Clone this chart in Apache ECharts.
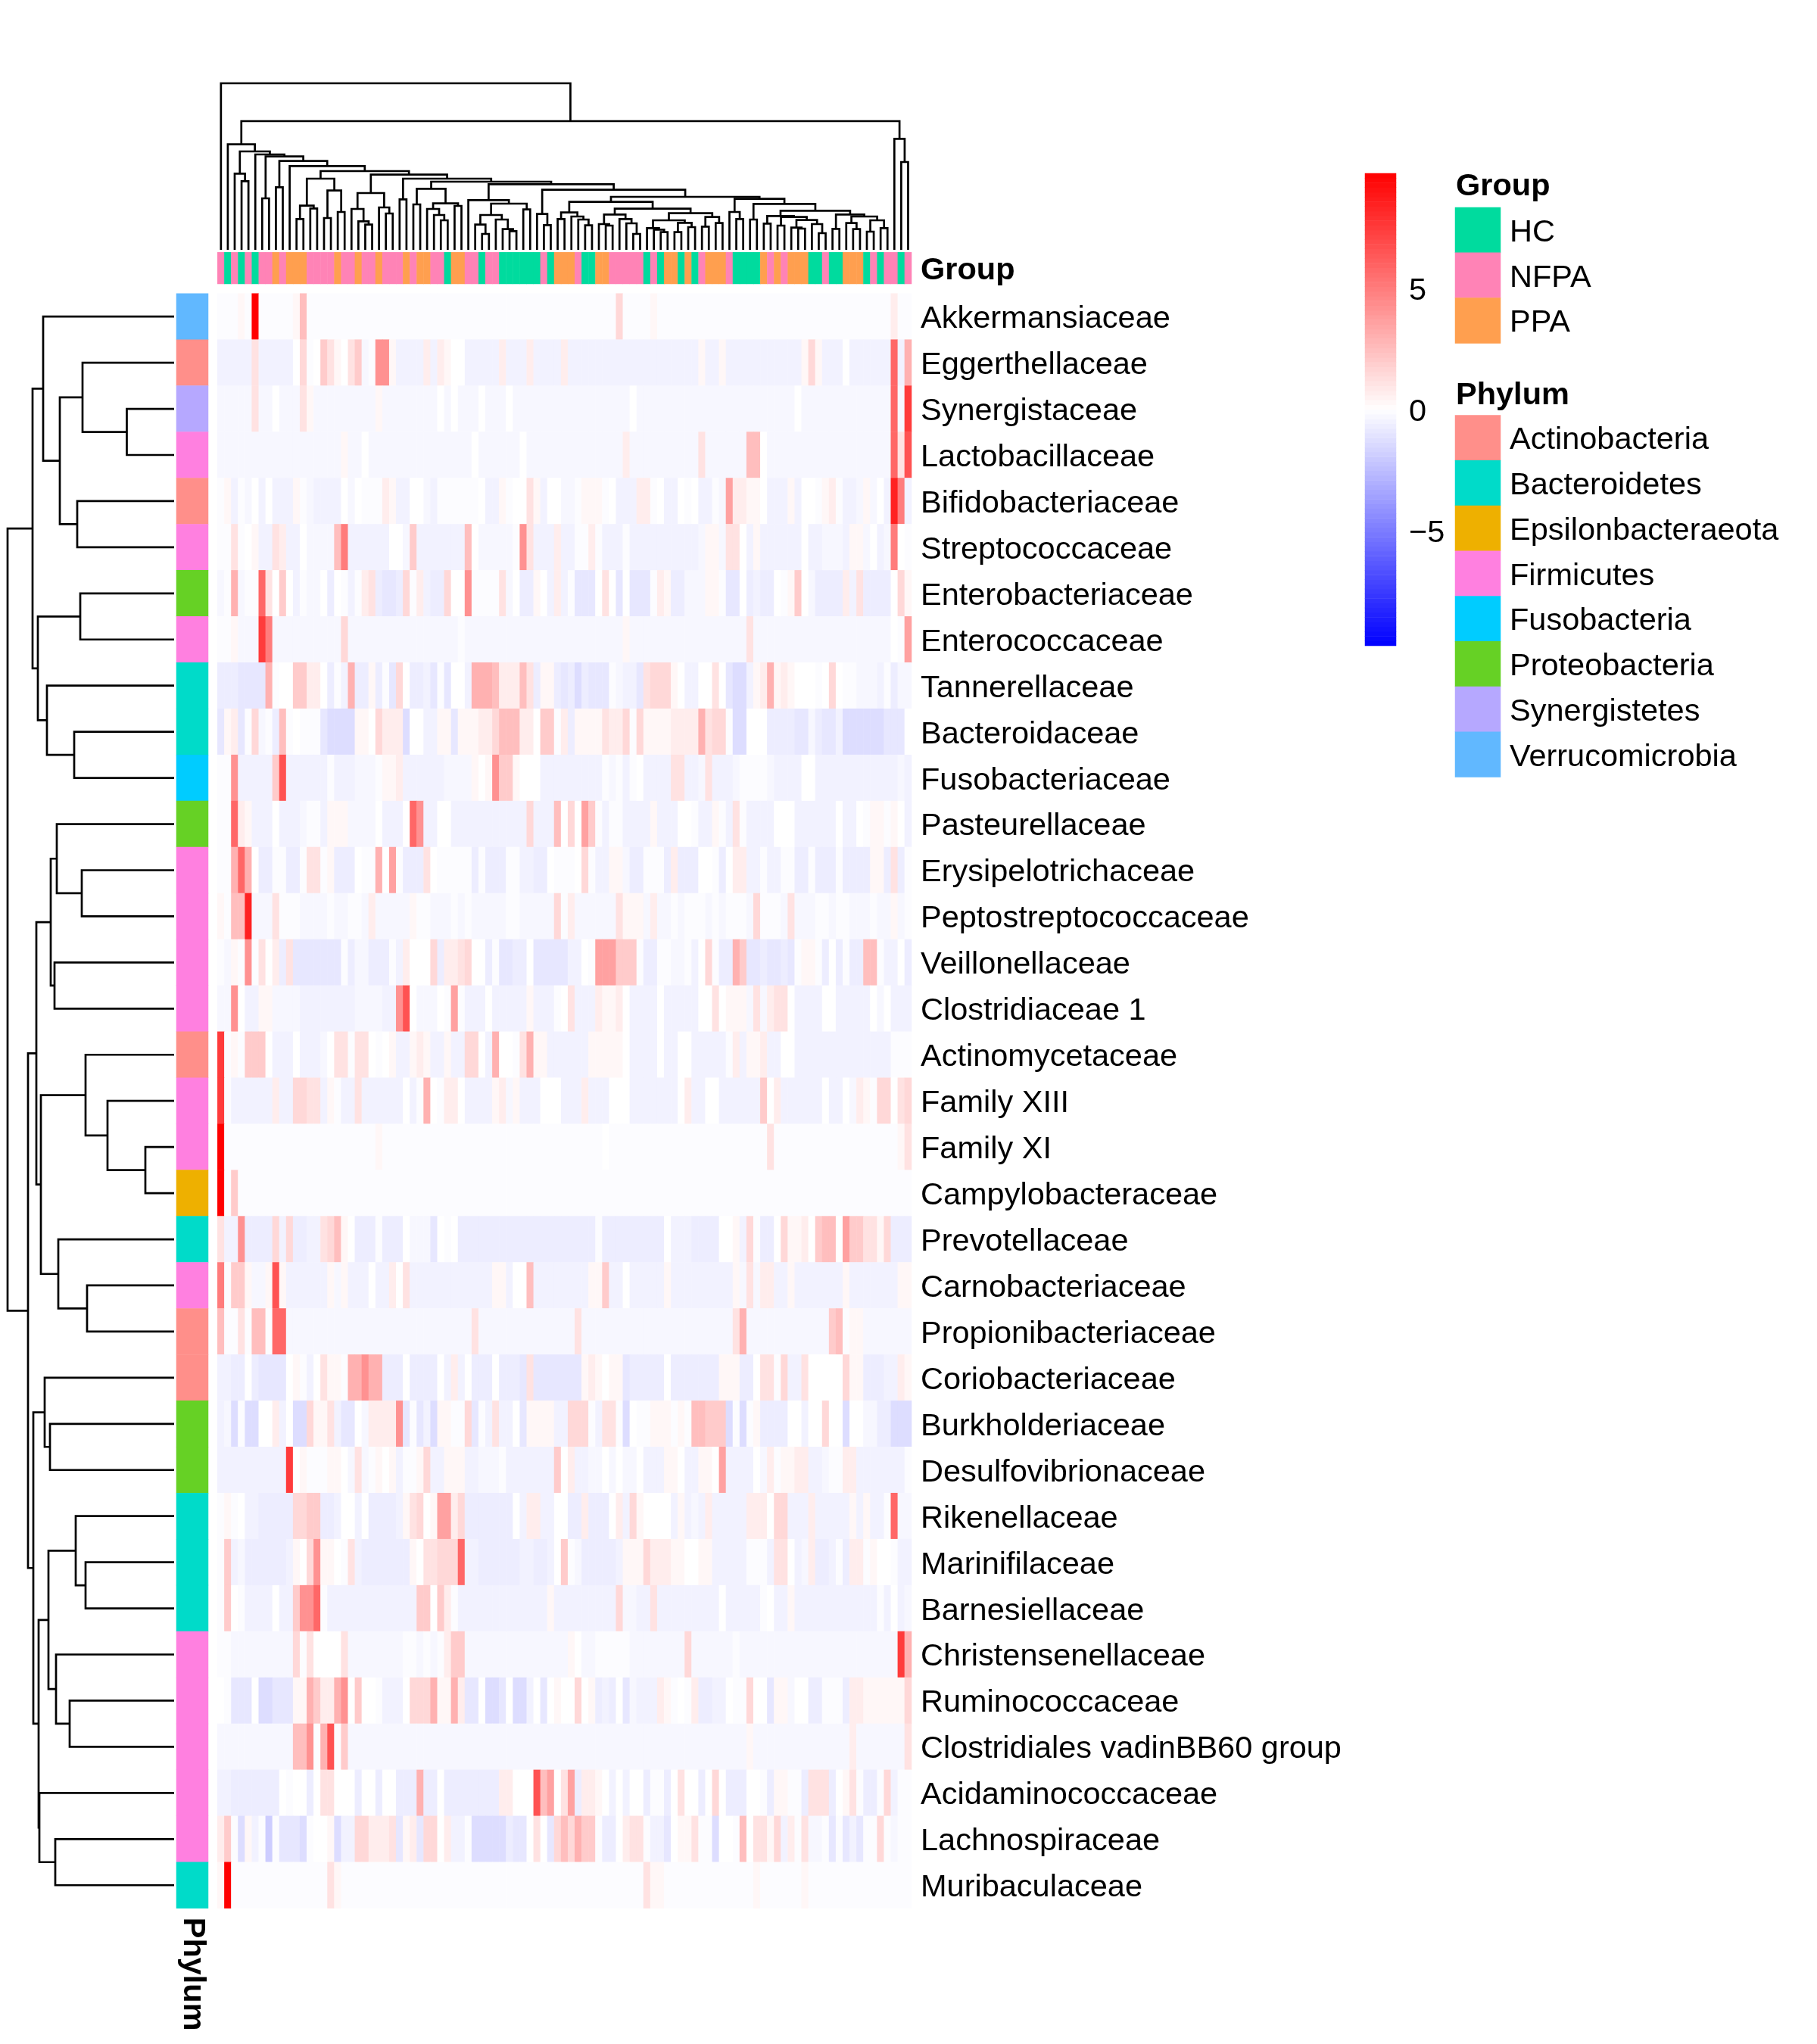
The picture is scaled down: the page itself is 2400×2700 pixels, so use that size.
<!DOCTYPE html>
<html>
<head>
<meta charset="utf-8">
<style>html,body{margin:0;padding:0;background:#fff}#c{width:2400px;height:2700px}</style>
<script src="https://cdn.jsdelivr.net/npm/echarts@6/dist/echarts.min.js"></script>
</head>
<body>
<div id="c"></div>
<script>
// ---------- categories ----------
const rowNames = ['Akkermansiaceae','Eggerthellaceae','Synergistaceae','Lactobacillaceae','Bifidobacteriaceae','Streptococcaceae','Enterobacteriaceae','Enterococcaceae','Tannerellaceae','Bacteroidaceae','Fusobacteriaceae','Pasteurellaceae','Erysipelotrichaceae','Peptostreptococcaceae','Veillonellaceae','Clostridiaceae 1','Actinomycetaceae','Family XIII','Family XI','Campylobacteraceae','Prevotellaceae','Carnobacteriaceae','Propionibacteriaceae','Coriobacteriaceae','Burkholderiaceae','Desulfovibrionaceae','Rikenellaceae','Marinifilaceae','Barnesiellaceae','Christensenellaceae','Ruminococcaceae','Clostridiales vadinBB60 group','Acidaminococcaceae','Lachnospiraceae','Muribaculaceae'];
const groupNames = ['HC','NFPA','PPA'];
const groupColors = ['#00DB9E','#FF83B6','#FF9F4F'];
const phylumNames = ['Actinobacteria','Bacteroidetes','Epsilonbacteraeota','Firmicutes','Fusobacteria','Proteobacteria','Synergistetes','Verrucomicrobia'];
const phylumColors = ['#FF8F8A','#00DBC9','#EEB000','#FF80E0','#00CCFF','#66D125','#B6A8FF','#61B8FF'];
// phylum index of every row
const rowPhylum = [7,0,6,3,0,3,5,3,1,1,4,5,3,3,3,3,0,3,3,2,1,3,0,0,5,5,1,1,1,3,3,3,3,3,1];
// group of every column (H, N, P)
const columnGroups = 'NHNHNHNNPN PPPNNNNPNN PNNPNNNPNP PNNHPPNNHN NHHHHHHNHP PPNHHPPNNN NNHNHPPHPH NPPPNHHHHP NPNPPPHHNH HPPPHNHNNH N';
// value read for each colour step of the picture
const levelValues = {a:-0.12,b:-0.3,c:-0.5,d:-0.7,e:-0.92,f:-1.3,g:-1.9,'0':0,'1':0.3,'2':0.7,'3':1.1,'4':1.5,'5':2.0,'6':2.5,'7':3.0,'8':3.6,'9':4.2,A:5.0,B:5.8,C:6.6,D:7.5,E:8.5,F:9.75};
// heat values, one step per column, grouped by ten columns
const heatRows = [
'aaa1aFaaaa a16aaaaaaa aaaaaaaaaa aaaaaaaaaa aaaaaaaaaa aaaaaaaa4a aaa1aaaaaa aaaaaaaaaa aaaaaaaaaa aaaaaaaa2a a',
'ccccc3cccc c04a053103 5ba991cccc 2c2100cccc c2ccc2cccc 2ccccccccc cccccccccc 1cc1cccccc ccccc141cc c0ccccccBc 7',
'bbbbb3bb0b bb31bbbbbb bbb1bbbbbb bb0b0bbb0b bb0bbbbbbb bbbbbbbbbb 0bbbbbbbbb bbbbbbbbbb bbbb0bbbbb bbbbbbbbBb D',
'bbbbbbbbbb bbbbbbbb1b b0bbbbbbbb bbbbbbb0bb bbbb0bbbbb bbbbbbbbb2 bbbbbbbbbb 3bbbbbb660 bbbbbbbbbb bbbbbbbbB3 C',
'a1cab0c0cc c1abcccc0b 0aaa21cc00 bcaaaaaa0c c1a0031c00 bba111a0cc c22a0cc0a0 ccab822110 ccc1c00a12 accb1b0cEA c',
'aa3a01cc32 cc0bbbb6Ac ccccc00b5c cccccc60bb bbba93ccc2 ccaa2accca cccccccccc b11b330c1c ccccc0ccbb bc11b0cbA0 a',
'ba7baaB305 0cabb0d0ac a23deed4a2 cdd4009aaa a3b0dd10c2 caeee030e0 eeea21ddbb b11aee0dcd d0a150bddd d2c3dddd04 1',
'aa1bbbDAbb bbbbbbbb4b bbbbbbbbbb bbbbbabbbb bbbbbbbbbb bbbbbbbbb1 bbbbbbbbbb bbbbbbb3bb bbbbbbbbbb bbbbbbbb0a 8',
'dddeeee7a0 055220dac7 dd1dae40dd ceae00c777 622263d11d edfdeeeabc ce344410cc 0030effc12 7121000a04 0aabbbcadb b',
'e12ea4bad6 a0aaaeffff 1104222f00 cc11e11122 466622055a 2d11113224 a411112222 7344aff000 ddddeebdee cffffffeee 0',
'aa9ccccc5C ccccccaccc bbba112ccc cccbbbb101 9551000ccc ccccccabac a0cccc33cc b3cccbaaaa bcccc00ccc cccccccccb c',
'aaB21ccc0c ccbaac111b bbb0ccc0B9 cc00cccccc ccccc4ccc6 04085acaac ccc1ccc00a cc1ac3accc c000cccccc 0cc0a11a10 c',
'aa7B70ddaa dda33a1ddd 0aa708addd 30aaaaadad ddaaccdd0a aa04acc11b ddaaad2ddd 00ad022cca ccaaddaddd adddd11d3d a',
'1a66Ebbb3a aabbbbabba ab2bbbbb1a abbbababbb bbaabbbbb4 a2bbbbbb31 11b2bbabaa ababaaab4a aab3bbbaab aabbbabb1b a',
'ab1a9a302d 3eeeeeeead bbdddac200 04d223400d aeedd0eeee ecc0a88855 5addaabbac 04add75eed eedea11ad0 dadd66acc0 d',
'bb90cc11bb bbcccccccc bbbbcc9C0b bb0a8accc0 ccccc1ccca 03ccc21120 cccc0ccccc 0030111b3b 2330cccc00 ccccc0b0cc c',
'Da1a5550cc c0cccb033a 330a01cc12 1cc1cc440c 700a3711cc cccc111110 cccc0cc00c cccca2c112 cc00cccccc ccccccccaa a',
'Dacccccc2c c4433c1acc 3cccccc0ca 70a220cccc 12b1ccc000 ccc2ccc000 ccccccc02c c00cccccc5 02cccccc0c c0b21a4403 4',
'Faaaaaaaaa aaaaaaaaaa aaa1aaaaaa aaaaaaaaaa aaaaaaaaaa aaaaaa0aaa aaaaaaaaaa aaaaaaaaaa 3aaaaaaaaa aaaaaaaaa1 3',
'Fa5aaaaaaa aaaaaaaaaa aaaaaaaaaa aaaaaaaaaa aaaaaaaaaa aaaaaaaaaa aaaaaaaaaa aaaaaaaaaa aaaaaaaaaa aaaaaaaaaa a',
'3cc9dddd4c 4ddcc34610 dddaddd0bb be0a0ddddd dddddddddd dddddadddd ddddd0cccd ddd001c4ad d041120566 08553314dd d',
'Aa551bb1C1 cccccc1b1c cc0cc203cc cccccccccc 11c006cccc cccc115cc0 ccccc1cccc ccccc1b3b2 2cc1cccccc c1ccccccc1 1',
'6aa3a66aBB bbbbbbbbbb bbbbbbbbbb bbbbbbb3bb bbbbbbbbbb bb3bbbbbbb bbbbbbbbbb bbbbb37bbb bbbbbbbbb5 6a11bbbbbb b',
'ccdd0deeee 01ac0311a7 7977ddd0dd dd0c2c0ddd 0ddde3eeee eee121011e ddddd0dddd ddd111dd03 3a4cc30000 0411dddcc2 1',
'cbfaff002c 0ff4113cee 0b22229eae cf11aa4eac 3cc0e1111c c444ac33af 0aa111a1a6 6555fafa1d ddd00c0040 0f00bbddff f',
'cccccccccc D01aaa110b 3ba101caa1 4cc111ccbb baccccccc5 02ccbb0b0b b0ccc110cc 1108cccc0b 2a1122ccba a22ccccccc a',
'a1a0ccdddd d4455ddc00 c0ddddc134 018824dddd ddd0c22cc0 0dd2ddd02c 410000c1cb c2ccccc222 044ccc2ccc cc1c1ccaBb b',
'a5cbdddddd c1049110a3 cddddddd10 33444Bccdd ddddccddc0 5abdddddc1 1142221100 11cccccaaa c330cb2ddc ad22a100ac c',
'a50acccc0c c599Bacccc ccccccccc5 5052accccc cccccccc1c cccccccc4b bcc3cccccc ccc0ccccca 0cc1cccccc ccccccac0c b',
'aabbbbbbbb b4a300003b bbbbbbbaab aba255bbbb bbbbbbbbbb b10bbaaaaa bbbbbbbb4b bbbbbabbbb bbbbbbbbbb bbbbbbbbbD 7',
'0aeee0ffee e117522790 500accc044 471172ee0f fe0ffc0e01 00401dcd0e bccc21a0a2 ddcc0aa400 e11b00ddaa ad22111111 4',
'bbbbbbbbbb b669a7Ca5b bbbbbbbbbb bbbbbbbbbb bbbbbbbbbb bbbbbbbbbb bbbbbbbbbb bbbbbbb1bb bbbbbbbbbb bb2bbbbbbb 3',
'ccddddddd0 a00d033000 d00d00ddd7 dd0ddddddd d22000C680 38d2210c0c 00daad0300 d040ddd00a d11aad333d 013adda4ca a',
'25af1cagae eefa001fcc 442223e12e 4402ccafff ffdee030e4 64755add02 33acce0113 aaf00a6033 14c2a3bbae aeceaa4aba a',
'1Faaaaaaaa aaaaaa31aa aaaaaaaaaa aaaaaaaaaa aaaaaaaaaa aaaaaaaaaa aa311aaaaa aaaaaaaa1a aaaaa1aaaa aaaaaaaaaa a'
];
// column tree: [height, left, right], 0 = a leaf, leaves numbered left to right
const colTreeA = [282,[175,[122,0,0],[164,0,0]],[235,[126,0,0],[150,0,0]]];
const colTreeB = [225,[162,0,[113,0,[100,0,0]]],[168,0,[144,0,0]]];
const colTreeC = [242,[180,0,0],[184,[162,0,[138,0,[117,0,0]]],[174,0,0]]];
const colTreeD = [197,0,[183,[138,[100,0,[63,0,0]],[120,0,[82,0,[74,0,0]]]],[160,0,0]]];
const colTreeE = [190,[148,[122,0,0],[132,0,[120,0,[97,0,0]]]],[163,[140,[102,0,[96,0,0]],[122,0,[105,0,[63,0,0]]]],[145,[117,[86,0,[80,0,[70,0,0]]],[107,[70,0,0],[90,0,0]]],[130,[92,0,0],[106,0,0]]]]];
const colTreeF = [202,[150,0,[122,0,0]],[182,[120,0,0],[155,[134,[104,0,0],[130,[96,0,0],[118,[88,0,[84,0,0]],[102,0,[66,0,0]]]]],[140,[83,0,0],[132,[106,0,[82,0,0]],[117,[72,0,0],[86,0,0]]]]]]];
const colTreeG = [238,[142,0,[98,0,0]],[210,colTreeE,colTreeF]];
const colTreeH = [270,colTreeC,[260,colTreeD,colTreeG]];
const colTreeI = [298,colTreeB,[282,[200,0,0],colTreeH]];
const colTreeJ = [378,0,[370,[204,0,0],[352,[248,0,0],[332,0,[312,colTreeA,colTreeI]]]]];
const colTreeK = [390,[302,0,[272,0,0]],colTreeJ];
const colTree = [660,0,[510,[418,0,colTreeK],[440,0,[348,0,0]]]];
// row tree
const rowTreeA = [173,0,[151,[121,0,[62.5,0,0]],[128,0,0]]];
const rowTreeB = [180,[124,0,0],[168,0,[132,0,0]]];
const rowTreeC = [163,[155,0,[122,0,0]],[158,0,0]];
const rowTreeD = [176,[117,0,[88,0,[38,0,0]]],[153,0,[115,0,0]]];
const rowTreeE = [186,[171,0,[164,0,0]],[179,[166,[130,0,[117,0,0]],[156,0,[138,0,0]]],[178,0,[157,0,0]]]];
const rowTree = [220,[187,rowTreeA,rowTreeB],[193,[182,rowTreeC,rowTreeD],rowTreeE]];
const scaleTicks = [-5,0,5];
const scaleMin = -9.75, scaleMax = 9.75, scaleSteps = 100;

// ---------- build ----------
const FONT = 'Liberation Sans';
const FS = 41.5;
const colCount = 101;
const rowsClean = heatRows.map(s => s.replace(/ /g,''));
rowsClean.forEach((s,i) => { if (s.length !== colCount) throw new Error('row '+i+' has '+s.length); });
const groupClean = columnGroups.replace(/ /g,'');
if (groupClean.length !== colCount) throw new Error('groups '+groupClean.length);

const heatData = [];
rowsClean.forEach((s,r) => { for (let c=0;c<colCount;c++) heatData.push([c,r,levelValues[s[c]]]); });
const groupData = [];
for (let c=0;c<colCount;c++) groupData.push([c,0,'HNP'.indexOf(groupClean[c])]);
const phylumData = rowPhylum.map((p,r)=>[0,r,p]);
const scaleCats = [], scaleData = [];
for (let i=0;i<scaleSteps;i++){ scaleCats.push(i); scaleData.push([0,i,scaleMin+(i+0.5)*(scaleMax-scaleMin)/scaleSteps]); }

function flatten(tree){
  const segs=[]; let leaf=0;
  (function walk(n){
    if(n===0){const p=leaf+0.5; leaf++; return {p:p,h:0};}
    const a=walk(n[1]), b=walk(n[2]);
    segs.push([a.p,b.p,a.h,b.h,n[0]]);
    return {p:(a.p+b.p)/2,h:n[0]};
  })(tree);
  segs.leafCount=leaf;
  return segs;
}
const colSegs=flatten(colTree), rowSegs=flatten(rowTree);
if(colSegs.leafCount!==colCount) throw new Error('col leaves '+colSegs.leafCount);
if(rowSegs.leafCount!==rowNames.length) throw new Error('row leaves '+rowSegs.leafCount);

const hidden = {show:false};
const hiddenAxis = {axisLine:hidden,axisTick:hidden,splitLine:hidden,splitArea:hidden,axisLabel:hidden};
const catAxis = (data,extra)=>Object.assign({type:'category',data:data},hiddenAxis,extra||{});
const txt = {fontFamily:FONT,fontSize:FS,color:'#000',verticalAlign:'top',lineHeight:7};
const HX=287.3,HW=916.7,HY=387.7,HH=2133;
const lineStyle={stroke:'#000',fill:null,lineWidth:2.7};

const grid=[
 {left:HX,top:HY,width:HW,height:HH},           //0 heat
 {left:HX,top:333.3,width:HW,height:41.7},      //1 group bar
 {left:233,top:HY,width:42,height:HH},          //2 phylum bar
 {left:HX,top:110,width:HW,height:220},         //3 column tree
 {left:10,top:HY,width:220,height:HH},          //4 row tree
 {left:1803,top:229,width:41,height:624},       //5 colour scale axis
 {left:1922,top:274,width:60,height:179.4},     //6 group legend
 {left:1922,top:548.5,width:60,height:478},     //7 phylum legend
 {left:1803,top:229,width:41,height:624}        //8 colour scale bar
];
const xAxis=[
 catAxis(rowsClean[0].split('').map((_,i)=>i),{gridIndex:0}),
 catAxis(rowsClean[0].split('').map((_,i)=>i),{gridIndex:1}),
 catAxis(['Phylum'],{gridIndex:2,axisLabel:{fontFamily:FONT,fontSize:FS,color:'#000',show:true,rotate:-90,margin:12,fontWeight:'bold'}}),
 Object.assign({type:'value',min:0,max:colCount,gridIndex:3},hiddenAxis),
 Object.assign({type:'value',min:0,max:220,inverse:true,gridIndex:4},hiddenAxis),
 Object.assign({type:'value',min:0,max:1,gridIndex:5},hiddenAxis),
 catAxis(['k'],{gridIndex:6}),
 catAxis(['k'],{gridIndex:7}),
 catAxis(['k'],{gridIndex:8})
];
const yAxis=[
 catAxis(rowNames,{gridIndex:0,inverse:true,position:'right',axisLabel:Object.assign({show:true,margin:12,interval:0},txt)}),
 catAxis(['Group'],{gridIndex:1,position:'right',axisLabel:Object.assign({show:true,margin:12,fontWeight:'bold'},txt)}),
 catAxis(rowNames,{gridIndex:2,inverse:true}),
 Object.assign({type:'value',min:0,max:660,gridIndex:3},hiddenAxis),
 Object.assign({type:'value',min:0,max:rowNames.length,inverse:true,gridIndex:4},hiddenAxis),
 Object.assign({type:'value',min:scaleMin,max:scaleMax,gridIndex:5,position:'right'},hiddenAxis,{axisLabel:Object.assign({show:true,margin:17,customValues:scaleTicks,formatter:v=>v<0?'\u2212'+Math.abs(v):String(v)},txt)}),
 catAxis(groupNames,{gridIndex:6,inverse:true,position:'right',axisLabel:Object.assign({show:true,margin:12,interval:0},txt)}),
 catAxis(phylumNames,{gridIndex:7,inverse:true,position:'right',axisLabel:Object.assign({show:true,margin:12,interval:0},txt)}),
 catAxis(scaleCats,{gridIndex:8})
];
const heat=(i,data)=>({type:'heatmap',xAxisIndex:i,yAxisIndex:i,data:data,progressive:0,animation:false,emphasis:{disabled:true}});
function vertical(params,api){
  const a=api.coord([api.value(0),api.value(2)]),b=api.coord([api.value(0),api.value(4)]),
        c=api.coord([api.value(1),api.value(4)]),d=api.coord([api.value(1),api.value(3)]);
  return {type:'polyline',shape:{points:[a,b,c,d]},style:lineStyle};
}
function horizontal(params,api){
  const a=api.coord([api.value(2),api.value(0)]),b=api.coord([api.value(4),api.value(0)]),
        c=api.coord([api.value(4),api.value(1)]),d=api.coord([api.value(3),api.value(1)]);
  return {type:'polyline',shape:{points:[a,b,c,d]},style:lineStyle};
}
const series=[
 heat(0,heatData),                                          //0
 heat(1,groupData),                                         //1
 heat(2,phylumData),                                        //2
 {type:'custom',xAxisIndex:3,yAxisIndex:3,data:colSegs,renderItem:vertical,clip:false,silent:true,encode:{x:[0,1],y:[2,3,4]}}, //3
 {type:'custom',xAxisIndex:4,yAxisIndex:4,data:rowSegs,renderItem:horizontal,clip:false,silent:true,encode:{x:[2,3,4],y:[0,1]}}, //4
 {type:'scatter',xAxisIndex:5,yAxisIndex:5,data:[],silent:true},  //5
 heat(6,groupNames.map((_,i)=>[0,i,i])),                    //6
 heat(7,phylumNames.map((_,i)=>[0,i,i])),                   //7
 heat(8,scaleData)                                          //8
];
const option={
 animation:false,
 backgroundColor:'#fff',
 title:[
  {text:'Group',left:1923,top:226,padding:0,textStyle:{fontFamily:FONT,fontSize:FS,fontWeight:'bold',color:'#000'}},
  {text:'Phylum',left:1923,top:502,padding:0,textStyle:{fontFamily:FONT,fontSize:FS,fontWeight:'bold',color:'#000'}}
 ],
 grid:grid,xAxis:xAxis,yAxis:yAxis,series:series,
 visualMap:[
  {type:'continuous',seriesIndex:[0,8],min:scaleMin,max:scaleMax,show:false,inRange:{color:['#0000ff','#ffffff','#ff0000']}},
  {type:'piecewise',show:false,seriesIndex:[1,6],pieces:groupColors.map((c,i)=>({value:i,color:c}))},
  {type:'piecewise',show:false,seriesIndex:[2,7],pieces:phylumColors.map((c,i)=>({value:i,color:c}))}
 ]
};
const chart=echarts.init(document.getElementById('c'),null,{renderer:'canvas',width:2400,height:2700});
chart.setOption(option);
</script>
</body>
</html>
